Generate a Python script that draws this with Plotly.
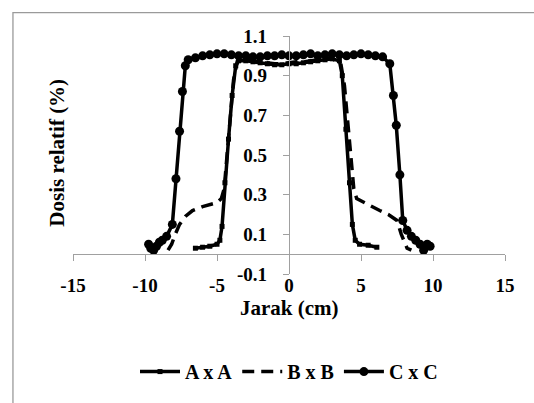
import plotly.graph_objects as go

# ---- data ----
A_x = [-6.5, -6.0, -5.5, -5.0, -4.8, -4.65, -4.45, -4.2, -3.95, -3.7, -3.5, -3.0, -2.5, -2.0, -1.5, -1.0,
       -0.5, 0.0, 0.5, 1.0, 1.5, 2.0, 2.5, 3.0, 3.5, 3.7, 3.95, 4.2, 4.4, 4.6, 4.9, 5.5, 6.1]
A_y = [0.03, 0.035, 0.04, 0.05, 0.07, 0.14, 0.36, 0.58, 0.8, 0.95, 0.975, 0.975, 0.97, 0.965, 0.96, 0.955,
       0.955, 0.96, 0.96, 0.965, 0.97, 0.975, 0.98, 0.985, 0.975, 0.9, 0.63, 0.36, 0.15, 0.07, 0.05, 0.045, 0.035]

B_x = [-8.4, -8.15, -7.9, -7.6, -7.2, -6.7, -6.0, -5.5, -5.0, -4.7, -4.5, -4.3, -4.1, -3.85, -3.6,
       -3.0, -2.5, -2.0, -1.5, -1.0, -0.5, 0.0, 0.5, 1.0, 1.5, 2.0, 2.5, 3.0,
       3.6, 3.85, 4.1, 4.3, 4.5, 4.7, 5.2, 5.8, 6.3, 6.9, 7.5, 7.8, 8.0, 8.2, 8.5]
B_y = [0.02, 0.05, 0.1, 0.15, 0.19, 0.22, 0.24, 0.25, 0.26, 0.28, 0.33, 0.5, 0.68, 0.88, 0.97,
       0.98, 0.975, 0.97, 0.965, 0.96, 0.96, 0.965, 0.97, 0.97, 0.975, 0.98, 0.985, 0.985,
       0.96, 0.85, 0.63, 0.47, 0.33, 0.28, 0.26, 0.24, 0.22, 0.2, 0.17, 0.1, 0.06, 0.03, 0.02]

C_x = [-9.75, -9.6, -9.4, -9.2, -9.0, -8.8, -8.5, -8.1, -7.85, -7.6, -7.4, -7.2, -7.0, -6.5, -6.0, -5.5,
       -5.0, -4.5, -4.0, -3.5, -3.0, -2.5, -2.0, -1.5, -1.0, -0.5, 0.0, 0.5, 1.0, 1.5, 2.0, 2.5, 3.0,
       3.5, 4.0, 4.5, 5.0, 5.5, 6.0, 6.5, 7.0, 7.25, 7.45, 7.7, 7.9, 8.2, 8.5, 8.8, 9.1, 9.35, 9.6, 9.8]
C_y = [0.05, 0.03, 0.02, 0.04, 0.06, 0.07, 0.09, 0.15, 0.38, 0.62, 0.82, 0.95, 0.98, 0.99, 1.0, 1.005,
       1.01, 1.01, 1.005, 1.0, 1.0, 0.995, 0.995, 1.0, 1.0, 1.005, 1.0, 1.0, 1.005, 1.01, 1.0, 1.005, 1.01,
       1.005, 1.0, 1.005, 1.01, 1.005, 1.0, 0.995, 0.96, 0.8, 0.65, 0.4, 0.17, 0.12, 0.09, 0.07, 0.05, 0.02, 0.05, 0.04]

series_names = ["A x A", "B x B", "C x C"]
x_ticks = [-15, -10, -5, 0, 5, 10, 15]
x_tick_text = ["-15", "-10", "-5", "0", "5", "10", "15"]
y_ticks = [-0.1, 0.1, 0.3, 0.5, 0.7, 0.9, 1.1]
y_tick_text = ["-0.1", "0.1", "0.3", "0.5", "0.7", "0.9", "1.1"]

FONT = "Liberation Serif"
AXIS_GRAY = "#a0a0a0"

fig = go.Figure()
fig.add_trace(go.Scatter(x=A_x, y=A_y, name=series_names[0], mode="lines+markers",
                         line=dict(color="black", width=3.5),
                         marker=dict(symbol="square", size=5, color="black")))
fig.add_trace(go.Scatter(x=B_x, y=B_y, name=series_names[1], mode="lines",
                         line=dict(color="black", width=3.5, dash="12px,7px")))
fig.add_trace(go.Scatter(x=C_x, y=C_y, name=series_names[2], mode="lines+markers",
                         line=dict(color="black", width=3.5),
                         marker=dict(symbol="circle", size=9, color="black")))

ymin, ymax = -0.1, 1.1
tickfont = dict(family=FONT, size=19, color="black", weight="bold")
fig.update_layout(
    width=534, height=403,
    margin=dict(l=73, r=29, t=36, b=123),
    paper_bgcolor="white", plot_bgcolor="white",
    font=dict(family=FONT, size=18, color="black", weight="bold"),
    showlegend=True,
    legend=dict(orientation="h", x=0.5, xanchor="center", y=-0.41, yanchor="middle",
                itemwidth=40,
                font=dict(family=FONT, size=20, color="black", weight="bold"),
                bgcolor="rgba(0,0,0,0)"),
    xaxis=dict(range=[-15, 15], tickvals=x_ticks, ticktext=x_tick_text,
               showgrid=False, zeroline=False,
               showline=True, linecolor=AXIS_GRAY, linewidth=1.3,
               ticks="outside", ticklen=6, tickcolor=AXIS_GRAY, tickwidth=1.3,
               anchor="free", position=(0 - ymin) / (ymax - ymin),
               ticklabelstandoff=8, tickfont=tickfont),
    yaxis=dict(range=[ymin, ymax], tickvals=y_ticks, ticktext=y_tick_text,
               showgrid=False, zeroline=False,
               showline=True, linecolor=AXIS_GRAY, linewidth=1.3,
               ticks="outside", ticklen=6, tickcolor=AXIS_GRAY, tickwidth=1.3,
               anchor="free", position=0.5, ticklabelstandoff=12, tickfont=tickfont),
)

# Axis titles as annotations
fig.add_annotation(text="Jarak (cm)", xref="paper", yref="paper", x=0.5, y=-0.142,
                   xanchor="center", yanchor="middle", showarrow=False,
                   font=dict(family=FONT, size=21, color="black", weight="bold"))
fig.add_annotation(text="Dosis relatif (%)", xref="paper", yref="paper", x=-0.037, y=0.51,
                   xanchor="center", yanchor="middle", showarrow=False, textangle=-90,
                   font=dict(family=FONT, size=21, color="black", weight="bold"))

# Chart-area border
fig.add_shape(type="rect", xref="paper", yref="paper", x0=-0.139, x1=1.08, y0=-0.6, y1=1.098,
              line=dict(color="#9a9a9a", width=1.3), fillcolor="rgba(0,0,0,0)", layer="below")

fig.write_html("out.html")
